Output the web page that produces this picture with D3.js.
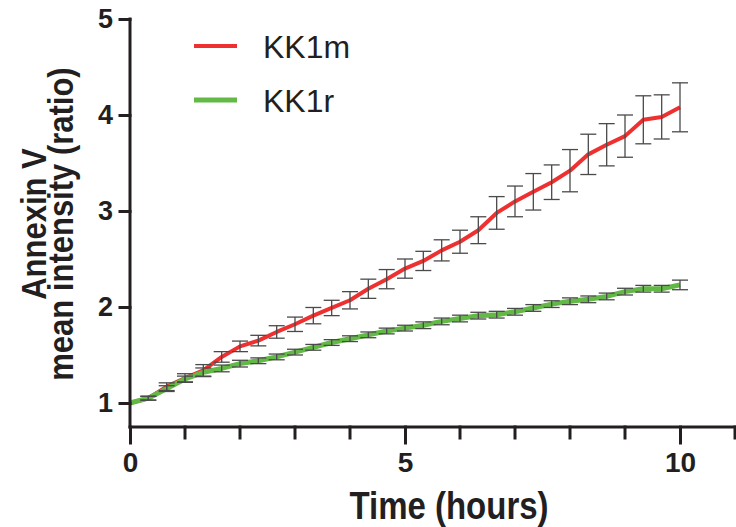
<!DOCTYPE html>
<html>
<head>
<meta charset="utf-8">
<script src="https://cdn.jsdelivr.net/npm/d3@7"></script>
<style>
  body { margin: 0; background: #fff; }
  svg { font-family: "Liberation Sans", Arial, sans-serif; }
</style>
</head>
<body>
<svg width="736" height="527"></svg>
<script>
// time points (hours), every 20 min
const times = [0, 0.333, 0.667, 1, 1.333, 1.667, 2, 2.333, 2.667, 3, 3.333, 3.667, 4, 4.333, 4.667,
    5, 5.333, 5.667, 6, 6.333, 6.667, 7, 7.333, 7.667, 8, 8.333, 8.667, 9, 9.333, 9.667, 10]

const kk1mMean = [1.00, 1.05, 1.17, 1.26, 1.34, 1.48, 1.59, 1.65, 1.74, 1.82, 1.91, 1.99, 2.07, 2.19, 2.29,
    2.40, 2.48, 2.59, 2.68, 2.80, 2.98, 3.10, 3.20, 3.30, 3.42, 3.59, 3.69, 3.78, 3.95, 3.98, 4.08]
const kk1mErr = [0, 0.02, 0.04, 0.045, 0.06, 0.055, 0.055, 0.055, 0.065, 0.075, 0.085, 0.08, 0.09, 0.10, 0.10,
    0.10, 0.10, 0.11, 0.12, 0.14, 0.17, 0.16, 0.19, 0.18, 0.22, 0.21, 0.22, 0.22, 0.25, 0.23, 0.255]

const kk1rMean = [1.00, 1.05, 1.15, 1.25, 1.32, 1.36, 1.41, 1.44, 1.48, 1.53, 1.58, 1.63, 1.67, 1.71, 1.75,
    1.78, 1.81, 1.85, 1.88, 1.91, 1.92, 1.95, 1.99, 2.03, 2.06, 2.08, 2.11, 2.16, 2.19, 2.19, 2.23]
const kk1rErr = [0, 0.02, 0.03, 0.03, 0.045, 0.035, 0.035, 0.03, 0.03, 0.03, 0.03, 0.03, 0.03, 0.03, 0.03,
    0.03, 0.035, 0.035, 0.035, 0.035, 0.035, 0.035, 0.035, 0.035, 0.035, 0.035, 0.035, 0.035, 0.035, 0.035, 0.05]

const yTicks = [1, 2, 3, 4, 5]
const xMajorTicks = [0, 5, 10]
const xMinorTicks = [1, 2, 3, 4, 6, 7, 8, 9, 11]

const seriesList = [
    {name: 'KK1m', mean: kk1mMean, err: kk1mErr, color: '#ee3130', width: 4},
    {name: 'KK1r', mean: kk1rMean, err: kk1rErr, color: '#63b946', width: 5}
]

const svg = d3.select('svg')

const x = d3.scaleLinear().domain([0, 11]).range([130, 735])
const y = d3.scaleLinear().domain([0.75, 5]).range([427, 19])

const axisColor = '#231f20'

// lines
const line = d3.line()
    .x((d, i) => x(times[i]))
    .y(d => y(d))

const g = svg.append('g')

g.selectAll('path.series')
    .data(seriesList)
    .join('path')
    .attr('class', 'series')
    .attr('d', s => line(s.mean))
    .attr('fill', 'none')
    .attr('stroke', s => s.color)
    .attr('stroke-width', s => s.width)
    .attr('stroke-linejoin', 'round')

// error bars on top of the lines
seriesList.forEach(s => {
    const bars = g.append('g')
        .attr('stroke', '#4a4a4a')
        .attr('stroke-width', 1.3)
        .selectAll('g')
        .data(s.mean.map((m, i) => ({t: times[i], m: m, e: s.err[i]})).filter(d => d.e > 0))
        .join('g')

    bars.append('line')
        .attr('x1', d => x(d.t)).attr('x2', d => x(d.t))
        .attr('y1', d => y(d.m - d.e)).attr('y2', d => y(d.m + d.e))
    bars.append('line')
        .attr('x1', d => x(d.t) - 8).attr('x2', d => x(d.t) + 8)
        .attr('y1', d => y(d.m + d.e)).attr('y2', d => y(d.m + d.e))
    bars.append('line')
        .attr('x1', d => x(d.t) - 8).attr('x2', d => x(d.t) + 8)
        .attr('y1', d => y(d.m - d.e)).attr('y2', d => y(d.m - d.e))
})

// y axis
const yAxis = svg.append('g')
    .attr('transform', `translate(${x(0)},0)`)
    .call(d3.axisLeft(y).tickValues(yTicks).tickSize(10).tickPadding(7).tickFormat(d3.format('d')))
yAxis.select('.domain').attr('d', `M0,${y(5)}V${y(0.75)}`)

// x axis, major + minor ticks
const xAxis = svg.append('g')
    .attr('transform', `translate(0,${y(0.75)})`)
    .call(d3.axisBottom(x).tickValues(xMajorTicks).tickSize(16).tickPadding(9).tickFormat(d3.format('d')))
xAxis.select('.domain').attr('d', `M${x(0)},0H${x(11)}`)

xAxis.selectAll('.minor')
    .data(xMinorTicks)
    .join('line')
    .attr('class', 'minor')
    .attr('x1', d => x(d)).attr('x2', d => x(d))
    .attr('y1', 0).attr('y2', 11)

svg.selectAll('.domain, .tick line, line.minor')
    .attr('stroke', axisColor)
    .attr('stroke-width', 3)
    .attr('stroke-linecap', 'square')

svg.selectAll('.tick text')
    .attr('fill', axisColor)
    .style('font-size', '27px')
    .style('font-weight', 'bold')
    .style('font-family', '"Liberation Sans", Arial, sans-serif')

// x labels are a little taller in the original
xAxis.selectAll('.tick text')
    .style('font-size', '28px')

// axis titles (original font is a tall, condensed bold)
svg.append('text')
    .attr('transform', 'translate(449,519) scale(1,1.15)')
    .attr('text-anchor', 'middle')
    .attr('fill', axisColor)
    .style('font-size', '33px')
    .style('font-weight', 'bold')
    .text('Time (hours)')

const yTitle = svg.append('g')
    .attr('transform', 'translate(0,224) rotate(-90) scale(1,1.15)')
    .attr('fill', axisColor)
    .style('font-size', '31px')
    .style('font-weight', 'bold')
    .attr('text-anchor', 'middle')
yTitle.append('text').attr('x', 0).attr('y', 40).text('Annexin V')
yTitle.append('text').attr('x', 0).attr('y', 63.5).text('mean intensity (ratio)')

// legend
const legend = svg.append('g')
    .selectAll('g')
    .data(seriesList)
    .join('g')
    .attr('transform', (d, i) => `translate(194,${46 + i * 54})`)

legend.append('line')
    .attr('x1', 0).attr('x2', 43)
    .attr('stroke', d => d.color)
    .attr('stroke-width', d => d.width)

legend.append('text')
    .attr('x', 69)
    .attr('y', 12)
    .attr('fill', axisColor)
    .style('font-size', '32px')
    .text(d => d.name)
</script>
</body>
</html>
